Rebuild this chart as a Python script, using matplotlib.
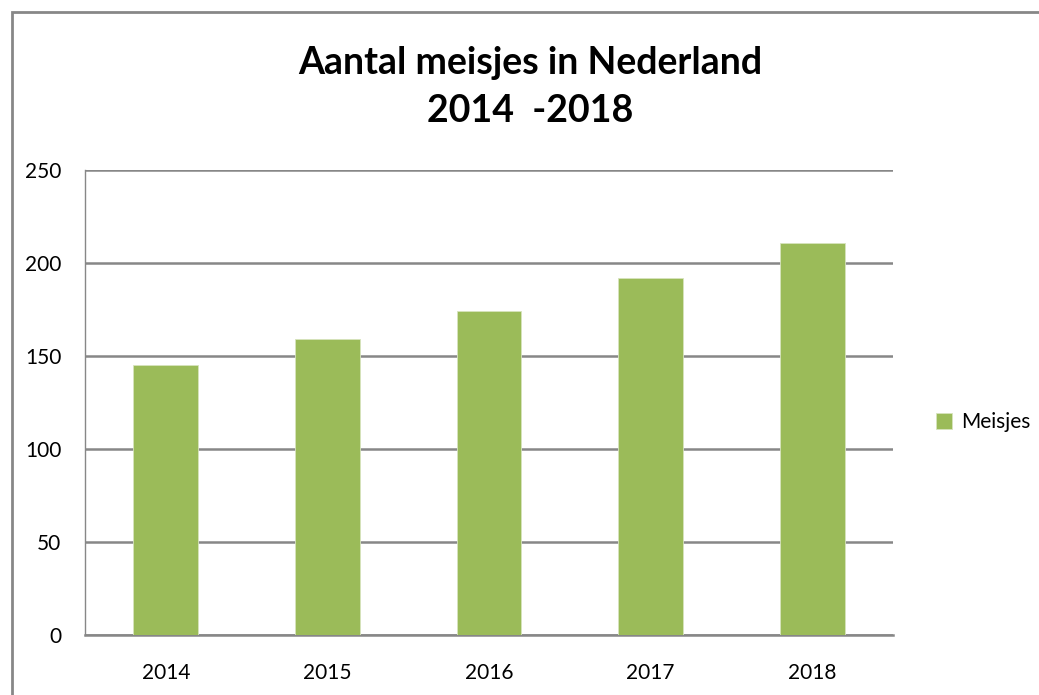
import matplotlib.pyplot as plt
from matplotlib.patches import Rectangle

# data
jaren = ['2014', '2015', '2016', '2017', '2018']
meisjes = [145, 159, 174, 192, 211]
y_ticks = [0, 50, 100, 150, 200, 250]

groen = '#9bbb59'
grijs = '#878787'

plt.rcParams['font.family'] = ['Lato', 'DejaVu Sans']

fig = plt.figure(figsize=(10.39, 6.95), dpi=100)
W, H = 1039, 695
ax = fig.add_axes([85 / W, 1 - 635 / H, (893 - 85) / W, (635 - 170) / H])

x = range(len(jaren))
ax.bar(x, meisjes, width=0.4, color=groen, edgecolor='#d7e4bd', linewidth=0.6,
       label='Meisjes', zorder=3)

ax.set_xlim(-0.5, len(jaren) - 0.5)
ax.set_ylim(0, 250)
ax.set_yticks(y_ticks)
ax.set_xticks(list(x))
ax.set_xticklabels(jaren)
ax.grid(axis='y', color=grijs, linewidth=1.8, zorder=0)
ax.tick_params(length=0, labelsize=15)
ax.tick_params(axis='x', pad=20)
ax.tick_params(axis='y', pad=17)

for s in ['top', 'right']:
    ax.spines[s].set_visible(False)
ax.spines['left'].set_color(grijs)
ax.spines['bottom'].set_color(grijs)
ax.spines['bottom'].set_linewidth(1.8)
ax.spines['left'].set_linewidth(1.0)

fig.text(530 / W, 1 - 87 / H, 'Aantal meisjes in Nederland\n2014  -2018',
         ha='center', va='center', fontsize=27, fontweight='bold',
         linespacing=1.5)

fig.legend(loc='center left', bbox_to_anchor=(917 / W, 1 - 422 / H),
           frameon=False, fontsize=15, handlelength=0.8, handleheight=0.8,
           handletextpad=0.4)

# chart border (top and left edges visible)
fig.patches.append(Rectangle((12 / W, -0.1), 1.2, 1 - 12 / H + 0.1,
                             transform=fig.transFigure, fill=False,
                             edgecolor=grijs, linewidth=2))

fig.savefig('out.png', dpi=100)
